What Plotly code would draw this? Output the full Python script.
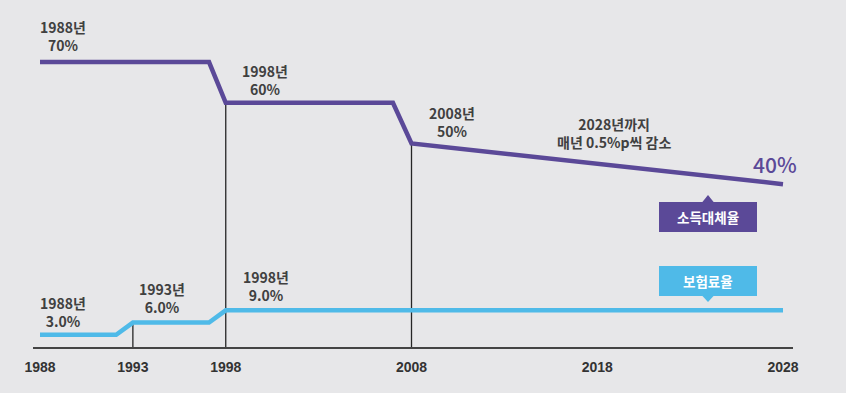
import plotly.graph_objects as go

# ---- data ----
replace_years = [1988, 1997.1, 1998, 2007.0, 2008, 2028]
replace_rate = [70, 70, 60, 60, 50, 40]          # 소득대체율 (%)

premium_years = [1988, 1992.1, 1993, 1997.1, 1998, 2028]
premium_rate = [3.0, 3.0, 6.0, 6.0, 9.0, 9.0]     # 보험료율 (%)

tick_years = [1988, 1993, 1998, 2008, 2018, 2028]
tick_labels = ["1988", "1993", "1998", "2008", "2018", "2028"]

guide_years = [1993, 1998, 2008]
guide_series = ["premium", "replace", "replace"]

PURPLE = "#5b4998"
BLUE = "#4fbae8"
BG = "#e7e7e9"
TXT = "#404040"

W, H = 846, 393
ML, MR, MT, MB = 33, 53, 0, 46
PW, PH = W - ML - MR, H - MT - MB


def px(x):
    return (x - ML) / PW


def py(y):
    return (H - MB - y) / PH


def value_at(years, vals, yr):
    return vals[years.index(yr)]


fig = go.Figure()

# vertical guide lines from the series down to the axis
for yr, s in zip(guide_years, guide_series):
    top = value_at(premium_years, premium_rate, yr) if s == "premium" else value_at(replace_years, replace_rate, yr)
    fig.add_trace(go.Scatter(x=[yr, yr], y=[0, top], mode="lines",
                             line=dict(color="#262626", width=1.3),
                             hoverinfo="skip", showlegend=False))

fig.add_trace(go.Scatter(x=replace_years, y=replace_rate, mode="lines",
                         line=dict(color=PURPLE, width=4.5), name="소득대체율", showlegend=False))
fig.add_trace(go.Scatter(x=premium_years, y=premium_rate, mode="lines",
                         line=dict(color=BLUE, width=4.5), name="보험료율", showlegend=False))

KFONT = "Noto Sans CJK KR"
anns = [
    (63, 36, "1988년<br>70%"),
    (265, 80, "1998년<br>60%"),
    (452, 122, "2008년<br>50%"),
    (614, 133, "2028년까지<br>매년 0.5%p씩 감소"),
    (63, 312, "1988년<br>3.0%"),
    (162, 298, "1993년<br>6.0%"),
    (266, 286, "1998년<br>9.0%"),
]
for x, y, t in anns:
    fig.add_annotation(x=px(x), y=py(y), xref="paper", yref="paper", text=t, showarrow=False,
                       font=dict(family=KFONT, size=14, color=TXT, weight="bold"),
                       xanchor="center", yanchor="middle", align="center")

fig.add_annotation(x=px(775), y=py(164), xref="paper", yref="paper", text="40%", showarrow=False,
                   font=dict(family=KFONT, size=21, color=PURPLE, weight=500), xanchor="center", yanchor="middle")

# legend tags
shapes = []
shapes.append(dict(type="rect", xref="paper", yref="paper", x0=px(659), x1=px(757), y0=py(232), y1=py(202),
                   fillcolor=PURPLE, line=dict(width=0), layer="above"))
shapes.append(dict(type="path", xref="paper", yref="paper",
                   path=f"M {px(702)} {py(202.5)} L {px(708)} {py(195)} L {px(714)} {py(202.5)} Z",
                   fillcolor=PURPLE, line=dict(width=0), layer="above"))
shapes.append(dict(type="rect", xref="paper", yref="paper", x0=px(659), x1=px(757), y0=py(296), y1=py(266),
                   fillcolor=BLUE, line=dict(width=0), layer="above"))
shapes.append(dict(type="path", xref="paper", yref="paper",
                   path=f"M {px(702)} {py(295.5)} L {px(708)} {py(302)} L {px(714)} {py(295.5)} Z",
                   fillcolor=BLUE, line=dict(width=0), layer="above"))
fig.add_annotation(x=px(708), y=py(217), xref="paper", yref="paper", text="<b>소득대체율</b>", showarrow=False,
                   font=dict(family=KFONT, size=13.5, color="white"), xanchor="center", yanchor="middle")
fig.add_annotation(x=px(708), y=py(281), xref="paper", yref="paper", text="<b>보험료율</b>", showarrow=False,
                   font=dict(family=KFONT, size=13.5, color="white"), xanchor="center", yanchor="middle")

x0 = 1988 - (40 - ML) / 18.575
x1 = 2028 + (ML + PW - 783) / 18.575

fig.update_layout(
    width=W, height=H,
    margin=dict(l=ML, r=MR, t=MT, b=MB),
    paper_bgcolor=BG, plot_bgcolor=BG,
    shapes=shapes,
    xaxis=dict(range=[x0, x1], showgrid=False, zeroline=False, showline=True,
               linecolor="#444444", linewidth=2, tickmode="array", tickvals=tick_years,
               ticktext=tick_labels, ticks="outside", ticklen=6, tickcolor=BG,
               tickfont=dict(family="Liberation Sans", size=14, color="#333333", weight="bold"),
               fixedrange=True),
    yaxis=dict(range=[0, PH / 4.071], visible=False, fixedrange=True),
)

fig.write_html("out.html", config={"displayModeBar": False},
               post_script="document.body.style.margin='0';document.body.style.background='%s';" % BG)
